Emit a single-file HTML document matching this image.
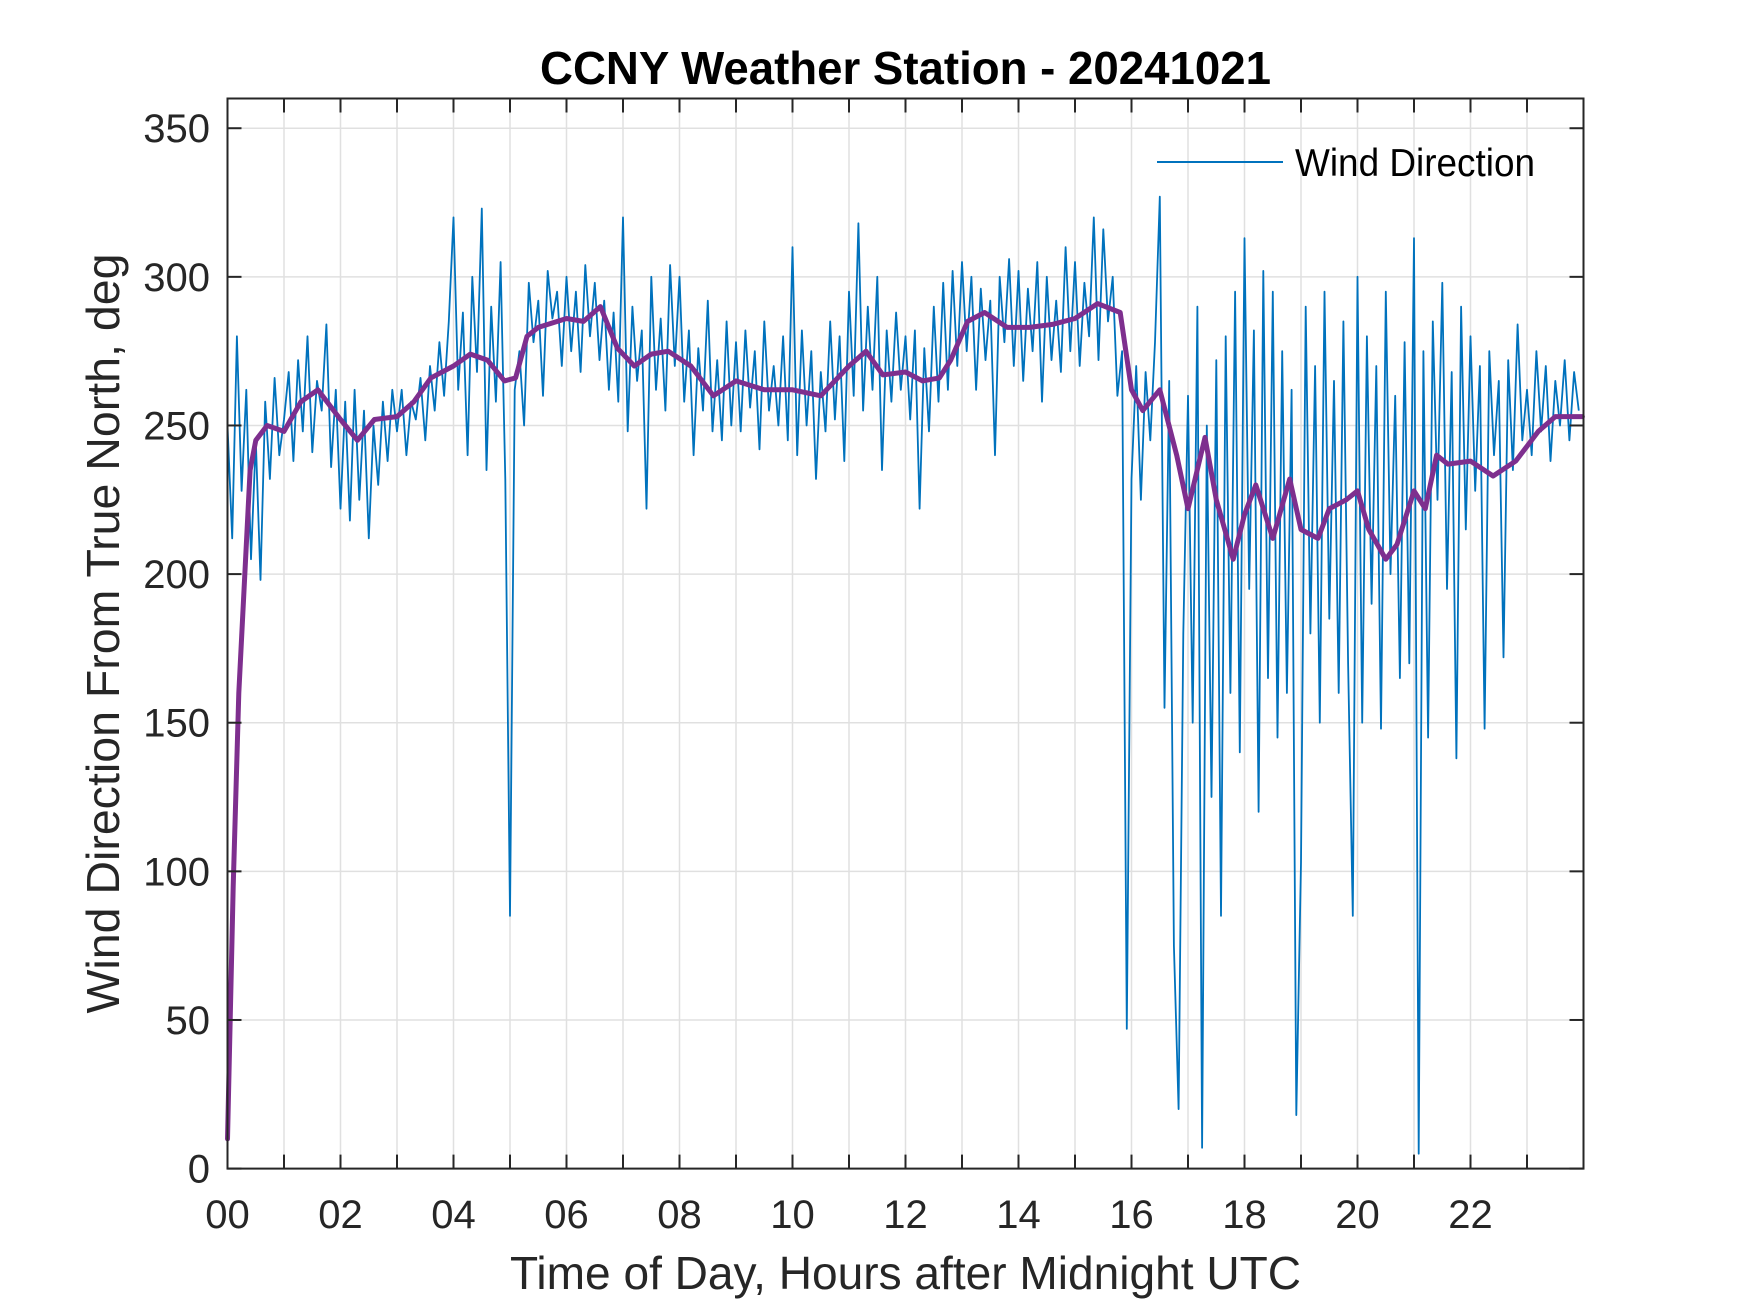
<!DOCTYPE html>
<html><head><meta charset="utf-8"><style>
html,body{margin:0;padding:0;background:#fff;}
svg{display:block;font-family:"Liberation Sans",Arial,sans-serif;}
</style></head><body>
<svg id="chart" width="1750" height="1313" viewBox="0 0 1750 1313" xmlns="http://www.w3.org/2000/svg">
<rect width="1750" height="1313" fill="#fff"/>
<g id="grid"></g>
<g id="series"></g>
<g id="axes"></g>
<text x="905.5" y="84" text-anchor="middle" font-size="46" font-weight="bold" fill="#000" textLength="731" lengthAdjust="spacingAndGlyphs">CCNY Weather Station - 20241021</text>
<text x="905.5" y="1289" text-anchor="middle" font-size="46" fill="#262626" textLength="791" lengthAdjust="spacingAndGlyphs">Time of Day, Hours after Midnight UTC</text>
<text transform="translate(119,633.5) rotate(-90)" text-anchor="middle" font-size="46" fill="#262626" textLength="760" lengthAdjust="spacingAndGlyphs">Wind Direction From True North, deg</text>
<g>
<line x1="1157" y1="162" x2="1283" y2="162" stroke="#0072BD" stroke-width="2"/>
<text x="1295" y="176" font-size="39" fill="#000" textLength="240" lengthAdjust="spacingAndGlyphs">Wind Direction</text>
</g>
</svg>
<script>
const windHourly = [
[250,212,280,228,262,205,245,198,258,232,266,240],
[252,268,238,272,248,280,241,265,255,284,236,262],
[222,258,218,262,225,255,212,250,230,258,238,262],
[248,262,240,258,252,266,245,270,255,278,260,285],
[320,262,288,240,300,268,323,235,290,258,305,232],
[85,262,275,250,298,278,292,260,302,286,295,270],
[300,275,295,268,304,280,298,272,292,262,288,258],
[320,248,290,265,282,222,300,262,286,255,304,270],
[300,258,282,240,276,255,292,248,272,245,285,250],
[278,248,282,256,275,242,285,255,270,250,280,245],
[310,240,282,250,275,232,268,248,285,252,280,238],
[295,260,318,255,290,262,300,235,282,258,288,262],
[280,252,282,222,276,248,290,258,298,262,302,270],
[305,275,300,262,296,272,292,240,300,278,306,270],
[302,265,296,275,305,258,300,272,292,268,310,275],
[305,270,298,280,320,272,316,285,300,260,275,47],
[232,270,225,268,245,278,327,155,265,75,20,180],
[260,150,290,7,250,125,272,85,280,160,295,140],
[313,195,282,120,302,165,295,145,275,160,262,18],
[103,290,180,270,150,295,185,265,160,285,170,85],
[300,150,280,190,270,148,295,200,260,165,278,170],
[313,5,275,145,285,225,298,195,268,138,290,215],
[280,228,270,148,275,240,265,172,272,235,284,245],
[262,240,275,248,270,238,265,250,272,245,268,255]
];
const trendTimes = [0,0.1,0.2,0.4,0.5,0.7,1,1.3,1.6,2,2.3,2.6,3,3.3,3.6,4,4.3,4.6,4.9,5.1,5.3,5.5,6,6.3,6.6,6.9,7.2,7.5,7.8,8.2,8.6,9,9.5,10,10.5,11,11.3,11.6,12,12.3,12.6,12.8,13.1,13.4,13.8,14.2,14.6,15,15.4,15.8,16,16.2,16.5,16.8,17,17.3,17.5,17.8,18,18.2,18.5,18.8,19,19.3,19.5,19.8,20,20.2,20.5,20.7,21,21.2,21.4,21.6,22,22.4,22.8,23.2,23.5,23.98];
const trendValues = [10,95,160,235,245,250,248,258,262,252,245,252,253,258,266,270,274,272,265,266,280,283,286,285,290,276,270,274,275,270,260,265,262,262,260,270,275,267,268,265,266,272,285,288,283,283,284,286,291,288,262,255,262,240,222,246,225,205,220,230,212,232,215,212,222,225,228,215,205,210,228,222,240,237,238,233,238,248,253,253];
const xTickLabels = ["00","02","04","06","08","10","12","14","16","18","20","22"];
const yTickValues = [0,50,100,150,200,250,300,350];

const NS = "http://www.w3.org/2000/svg";
const L = 227.5, R = 1583.5, T = 98.5, B = 1168.6;
const xMax = 24, yMax = 360;
function xs(h){ return L + h / xMax * (R - L); }
function ys(v){ return B - v / yMax * (B - T); }
function mk(tag, attrs, parent){
  const e = document.createElementNS(NS, tag);
  for (const k in attrs) e.setAttribute(k, attrs[k]);
  parent.appendChild(e);
  return e;
}
const grid = document.getElementById('grid');
const series = document.getElementById('series');
const axes = document.getElementById('axes');

// grid
for (let h = 1; h < 24; h++) {
  const g = mk('line', {x1: xs(h), x2: xs(h), y1: T, y2: B, stroke: '#e0e0e0', 'stroke-width': 1.5}, grid);
  
  
}
yTickValues.forEach(v => {
  if (v === 0) return;
  const g = mk('line', {x1: L, x2: R, y1: ys(v), y2: ys(v), stroke: '#e0e0e0', 'stroke-width': 1.5}, grid);
  
  
});

// wind direction series
const windValues = [].concat(...windHourly);
let d = '';
windValues.forEach((v, i) => {
  const h = i * 24 / windValues.length;
  d += (i ? 'L' : 'M') + xs(h).toFixed(1) + ' ' + ys(v).toFixed(1);
});
const wl = mk('path', {d: d, fill: 'none', stroke: '#0072BD', 'stroke-width': 1.8, 'stroke-linejoin': 'round'}, series);



// trend
let d2 = '';
trendTimes.forEach((t, i) => {
  d2 += (i ? 'L' : 'M') + xs(t).toFixed(1) + ' ' + ys(trendValues[i]).toFixed(1);
});
const tl = mk('path', {d: d2, fill: 'none', stroke: '#7E2F8E', 'stroke-width': 5, 'stroke-linejoin': 'round', 'stroke-linecap': 'round'}, series);



// box
const box = mk('rect', {x: L, y: T, width: R - L, height: B - T, fill: 'none', stroke: '#262626', 'stroke-width': 2}, axes);



// x ticks
for (let h = 0; h <= 24; h++) {
  const t1 = mk('line', {x1: xs(h), x2: xs(h), y1: B, y2: B - 14, stroke: '#262626', 'stroke-width': 2}, axes);
  
  
  const t2 = mk('line', {x1: xs(h), x2: xs(h), y1: T, y2: T + 14, stroke: '#262626', 'stroke-width': 2}, axes);
  
  
}
xTickLabels.forEach((lab, i) => {
  const tx = mk('text', {x: xs(i * 2), y: 1228, 'text-anchor': 'middle', 'font-size': 40, fill: '#262626'}, axes);
  tx.textContent = lab;
  
  
});
// y ticks
yTickValues.forEach(v => {
  const t1 = mk('line', {x1: L, x2: L + 14, y1: ys(v), y2: ys(v), stroke: '#262626', 'stroke-width': 2}, axes);
  
  
  const t2 = mk('line', {x1: R, x2: R - 14, y1: ys(v), y2: ys(v), stroke: '#262626', 'stroke-width': 2}, axes);
  
  
  const tx = mk('text', {x: 210, y: ys(v) + 14, 'text-anchor': 'end', 'font-size': 40, fill: '#262626'}, axes);
  tx.textContent = String(v);
  
  
});
</script>
</body></html>
